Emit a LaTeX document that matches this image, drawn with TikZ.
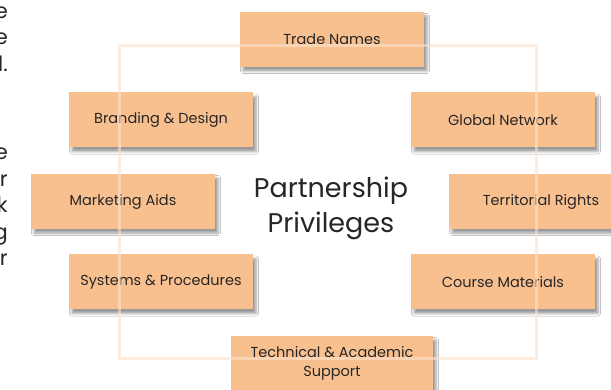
\documentclass[tikz,border=0pt]{standalone}
\usepackage{fontspec}
\setmainfont{Poppins}
\usetikzlibrary{positioning,shadows.blur}
\tikzset{>=latex}
\definecolor{boxfill}{RGB}{249,192,143}
\definecolor{framecol}{RGB}{253,226,204}
\definecolor{txtcol}{RGB}{38,38,38}
\tikzset{
  privbox/.style={rectangle, fill=boxfill, minimum width=184pt, minimum height=55pt,
    text=txtcol, align=center, font=\fontsize{14.5}{19}\selectfont,
    blur shadow={shadow xshift=3pt, shadow yshift=-4pt, shadow blur radius=2.5pt, shadow opacity=40}},
  cuttext/.style={anchor=base east, inner sep=0pt, text=txtcol, font=\fontsize{21}{25}\selectfont}
}

\begin{document}
\begin{tikzpicture}[x=1pt,y=-1pt]
      \clip (0,0) rectangle (611,390);
      \fill[white] (0,0) rectangle (611,390);
      % text of the page, cut at the left edge
      \foreach \y/\t [count=\i] in {18.5/e, 45/e, 71.5/l., 160/e, 186.5/r, 213/k, 239.5/g, 266/r}
        \node[cuttext] (cut\i) at (8,\y) {\t};
      \coordinate (mid) at (332,201.5);
      \coordinate[above of=mid, node distance=81.5pt] (aux1);
      \coordinate[below of=mid, node distance=80.5pt] (aux2);
      \node[privbox, above of=mid, node distance=162pt] (tn) {Trade Names};
      \node[privbox, left of=aux1, node distance=171pt] (bd) {Branding \& Design};
      \node[privbox, right of=aux1, node distance=171pt] (gn) {Global Network};
      \node[privbox, left of=mid, node distance=209pt] (ma) {Marketing Aids};
      \node[privbox, right of=mid, node distance=209pt] (tr) {Territorial Rights};
      \node[privbox, left of=aux2, node distance=171pt] (sp) {Systems \& Procedures};
      \node[privbox, right of=aux2, node distance=171pt] (cm) {Course Materials};
      \node[privbox, below of=mid, node distance=162pt, minimum width=202pt] (tas) {Technical \& Academic\\Support};
      \node[align=center, text=txtcol, font=\fontsize{27}{35}\selectfont] (pp) at (331,208) {Partnership\\Privileges};
      \draw[framecol, line width=3pt, opacity=0.6] (119.5,46) rectangle (536.5,358);
    \end{tikzpicture}
\end{document}
